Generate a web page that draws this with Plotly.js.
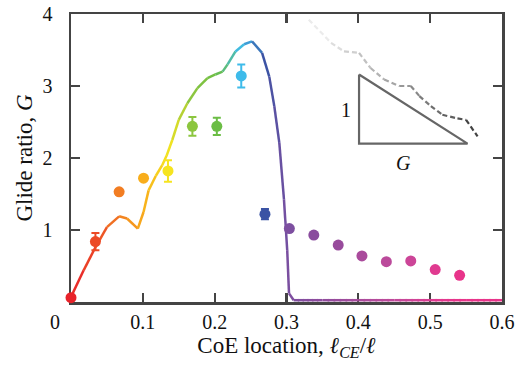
<!DOCTYPE html>
<html><head><meta charset="utf-8">
<script src="https://cdn.plot.ly/plotly-3.0.1.min.js"></script>
<style>html,body{margin:0;padding:0;background:#fff}#c{width:515px;height:370px}</style>
</head><body><div id="c"></div>
<script>
// Measured data points (CoE location vs glide ratio)
const ptX = [0, 0.034, 0.067, 0.101, 0.135, 0.169, 0.203, 0.237, 0.270, 0.304, 0.338, 0.372, 0.405, 0.439, 0.473, 0.507, 0.541];
const ptY = [0.06, 0.84, 1.53, 1.72, 1.82, 2.44, 2.44, 3.14, 1.22, 1.02, 0.93, 0.79, 0.64, 0.56, 0.57, 0.45, 0.37];
const ptErr = [0, 0.12, 0, 0, 0.15, 0.13, 0.12, 0.16, 0.07, 0, 0, 0, 0, 0, 0, 0, 0];
const ptColors = ['#e8232a','#ec4a26','#f27d22','#f8ad1b','#f6e41f','#8cc63f','#6bbd45','#3ebbea','#3a53a4','#7d4fa0','#8a4c9e','#984b9c','#aa4b9c','#bb4a9b','#cc4598','#e03a90','#e8348a'];

// Model curve
const curveX = [0, 0.0176, 0.034, 0.050, 0.067, 0.078, 0.093, 0.101, 0.108, 0.118, 0.127, 0.133, 0.141, 0.150, 0.162, 0.176, 0.190, 0.201, 0.211, 0.218, 0.229, 0.241, 0.252, 0.266, 0.276, 0.283, 0.290, 0.2965, 0.301, 0.3035, 0.310, 0.35, 0.40, 0.45, 0.50, 0.55, 0.60];
const curveY = [0.07, 0.44, 0.76, 1.04, 1.19, 1.16, 1.02, 1.25, 1.55, 1.75, 1.90, 2.03, 2.25, 2.53, 2.76, 2.97, 3.11, 3.16, 3.20, 3.30, 3.48, 3.58, 3.62, 3.46, 3.13, 2.72, 2.21, 1.42, 0.72, 0.12, 0.025, 0.025, 0.025, 0.025, 0.025, 0.025, 0.025];

// Dashed grey curve
const dashX = [0.331, 0.362, 0.380, 0.401, 0.417, 0.436, 0.457, 0.473, 0.485, 0.501, 0.517, 0.538, 0.550, 0.566];
const dashY = [3.92, 3.60, 3.48, 3.46, 3.25, 3.09, 3.00, 3.00, 2.86, 2.72, 2.60, 2.55, 2.53, 2.30];
const dashGreyStart = 242, dashGreyEnd = 60;

// Slope triangle
const triX = [0.401, 0.401, 0.552, 0.401];
const triY = [3.16, 2.20, 2.20, 3.16];

const xTickVals = [0.1, 0.2, 0.3, 0.4, 0.5, 0.6];
const xTickText = ['0.1', '0.2', '0.3', '0.4', '0.5', '0.6'];
const yTickVals = [1, 2, 3, 4];
const yTickText = ['1', '2', '3', '4'];

function hex2rgb(h){return [parseInt(h.slice(1,3),16),parseInt(h.slice(3,5),16),parseInt(h.slice(5,7),16)];}
function colorAt(x){
  if (x <= ptX[0]) return ptColors[0];
  for (let i=0;i<ptX.length-1;i++){
    if (x <= ptX[i+1]){
      const t=(x-ptX[i])/(ptX[i+1]-ptX[i]);
      const a=hex2rgb(ptColors[i]), b=hex2rgb(ptColors[i+1]);
      return 'rgb('+a.map((v,k)=>Math.round(v+(b[k]-v)*t)).join(',')+')';
    }
  }
  return ptColors[ptColors.length-1];
}

const traces = [];
// coloured curve segments (slightly overlapping to hide joins)
for (let i=0;i<curveX.length-1;i++){
  const n = (curveX[i+1]-curveX[i] > 0.03) ? 6 : 1;
  for (let k=0;k<n;k++){
    const f0 = Math.max(0, (k-0.15)/n), f1 = Math.min(1, (k+1.15)/n);
    const x0 = curveX[i] + (curveX[i+1]-curveX[i])*f0, x1 = curveX[i] + (curveX[i+1]-curveX[i])*f1;
    const y0 = curveY[i] + (curveY[i+1]-curveY[i])*f0, y1 = curveY[i] + (curveY[i+1]-curveY[i])*f1;
    traces.push({x:[x0,x1], y:[y0,y1], mode:'lines', line:{color:colorAt((x0+x1)/2), width:2.5}, hoverinfo:'skip', showlegend:false});
  }
}
// dashed grey curve segments
for (let i=0;i<dashX.length-1;i++){
  const t = (i+0.5)/(dashX.length-1);
  const g = Math.round(dashGreyStart + (dashGreyEnd-dashGreyStart)*t);
  traces.push({x:[dashX[i],dashX[i+1]], y:[dashY[i],dashY[i+1]], mode:'lines', line:{color:'rgb('+g+','+g+','+g+')', width:2.2, dash:'5px,3px'}, hoverinfo:'skip', showlegend:false});
}
// triangle
traces.push({x:triX, y:triY, mode:'lines', line:{color:'#666', width:2.2}, hoverinfo:'skip', showlegend:false});
// points with error bars
for (let i=0;i<ptX.length;i++){
  traces.push({x:[ptX[i]], y:[ptY[i]], mode:'markers', cliponaxis:false,
    marker:{color:ptColors[i], size:11},
    error_y:{type:'data', array:[ptErr[i]], visible:ptErr[i]>0, color:ptColors[i], thickness:2, width:4},
    hoverinfo:'skip', showlegend:false});
}

const serif = '"Liberation Serif", "Times New Roman", Times, serif';
const layout = {
  width:515, height:370,
  margin:{l:71, r:13, t:14, b:68},
  paper_bgcolor:'#fff', plot_bgcolor:'#fff',
  font:{family:serif, size:20, color:'#111'},
  xaxis:{range:[0,0.6], tickvals:xTickVals, ticktext:xTickText, ticks:'inside', ticklen:9, tickwidth:2.2, tickcolor:'#444',
    showline:true, linecolor:'#444', linewidth:2.5, mirror:'ticks', showgrid:false, zeroline:false, layer:'below traces',
    tickfont:{family:serif, size:20, color:'#111'}, automargin:false,
    title:{text:'CoE location, <i>ℓ</i><sub><i>CE</i></sub>/<i>ℓ</i>', font:{family:serif, size:23, color:'#111'}, standoff:6}},
  yaxis:{range:[0,4], tickvals:yTickVals, ticktext:yTickText, ticks:'inside', ticklen:9, tickwidth:2.2, tickcolor:'#444',
    showline:true, linecolor:'#444', linewidth:2.5, mirror:'ticks', showgrid:false, zeroline:false, layer:'below traces',
    tickfont:{family:serif, size:20, color:'#111'}, ticklabelstandoff:12, automargin:false,
    title:{text:'Glide ratio, <i>G</i>', font:{family:serif, size:23, color:'#111'}, standoff:4}},
  annotations:[
    {text:'0', xref:'paper', yref:'paper', x:-0.02, xanchor:'right', y:0, yanchor:'top', yshift:-7, showarrow:false, font:{family:serif, size:20, color:'#111'}},
    {text:'1', xref:'x', yref:'y', x:0.383, y:2.67, showarrow:false, font:{family:serif, size:20, color:'#111'}},
    {text:'<i>G</i>', xref:'x', yref:'y', x:0.463, y:1.93, showarrow:false, font:{family:serif, size:20, color:'#111'}}
  ]
};
Plotly.newPlot('c', traces, layout, {staticPlot:true, displayModeBar:false});
</script></body></html>
